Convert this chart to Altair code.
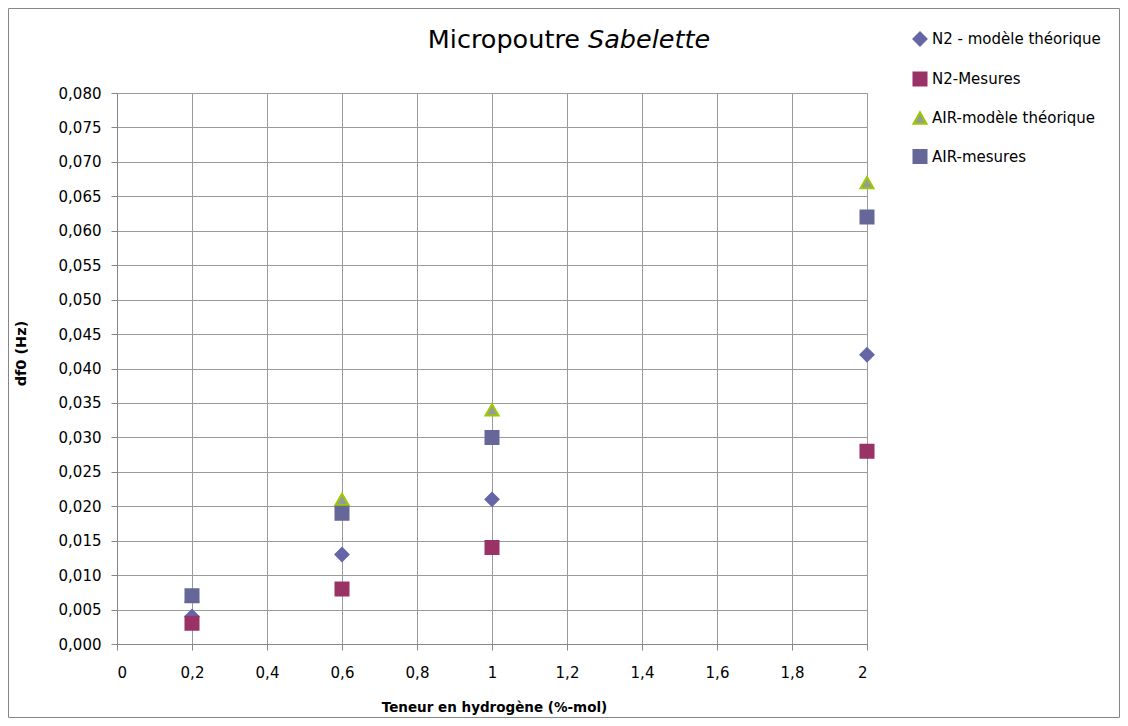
import altair as alt
import pandas as pd

# ---- data ----
x_values = [0.2, 0.6, 1.0, 2.0]
n2_theory = [0.004, 0.013, 0.021, 0.042]
n2_measured = [0.003, 0.008, 0.014, 0.028]
air_theory = [0.007, 0.021, 0.034, 0.067]
air_measured = [0.007, 0.019, 0.030, 0.062]

series_names = ["N2 - modèle théorique", "N2-Mesures", "AIR-modèle théorique", "AIR-mesures"]
series_fill = ["#6666A6", "#993366", "#999999", "#666699"]
series_stroke = ["#6666A6", "#993366", "#99CC00", "#666699"]
series_shape = ["diamond", "square", "triangle-up", "square"]
series_size = [170, 169, 200, 300]

x_ticks = [0, 0.2, 0.4, 0.6, 0.8, 1.0, 1.2, 1.4, 1.6, 1.8, 2.0]
y_ticks = [0.000, 0.005, 0.010, 0.015, 0.020, 0.025, 0.030, 0.035, 0.040,
           0.045, 0.050, 0.055, 0.060, 0.065, 0.070, 0.075, 0.080]

title_main = "Micropoutre"
title_italic = "Sabelette"
x_title = "Teneur en hydrogène (%-mol)"
y_title = "df0 (Hz)"

rows = []
for i, (name, vals) in enumerate(zip(series_names, [n2_theory, n2_measured, air_theory, air_measured])):
    for x, v in zip(x_values, vals):
        rows.append({"series": name, "x": x, "y": v, "k": i})
df = pd.DataFrame(rows)

FONT = "DejaVu Sans"
AXIS_GREY = "#868686"
GRID_GREY = "#9a9a9a"

W, H = 750, 551
PAD_L, PAD_T, PAD_R, PAD_B = 109, 85, 253, 74

legend = alt.Legend(
    title=None, orient="none", legendX=795, legendY=-62,
    labelFont=FONT, labelFontSize=15, labelColor="black", labelLimit=400,
    labelOffset=4, rowPadding=18, padding=0, symbolStrokeWidth=2,
)

points = alt.Chart(df).mark_point(filled=True, strokeWidth=2, opacity=1).encode(
    x=alt.X("x:Q",
            scale=alt.Scale(domain=[0, 2], nice=False, zero=True),
            axis=alt.Axis(values=x_ticks, title=x_title,
                          labelExpr="replace(format(datum.value, '.1~f'), '.', ',')",
                          labelBaseline="middle", labelPadding=22,
                          titleFont=FONT, titleFontWeight="bold", titleFontSize=13.5,
                          titleColor="black", titleBaseline="alphabetic",
                          titleX=377, titleY=67)),
    y=alt.Y("y:Q",
            scale=alt.Scale(domain=[0, 0.08], nice=False, zero=True),
            axis=alt.Axis(values=y_ticks, title=y_title,
                          labelExpr="replace(format(datum.value, '.3f'), '.', ',')",
                          labelPadding=10,
                          titleFont=FONT, titleFontWeight="bold", titleFontSize=14.5,
                          titleColor="black", titleAngle=270, titleBaseline="middle",
                          titleAlign="center", titleX=-96, titleY=260)),
    color=alt.Color("series:N", scale=alt.Scale(domain=series_names, range=series_fill), legend=legend),
    stroke=alt.Stroke("series:N", scale=alt.Scale(domain=series_names, range=series_stroke), legend=legend),
    shape=alt.Shape("series:N", scale=alt.Scale(domain=series_names, range=series_shape), legend=legend),
    size=alt.Size("series:N", scale=alt.Scale(domain=series_names, range=series_size), legend=legend),
    order=alt.Order("k:Q"),
)

one = pd.DataFrame({"a": [0]})

title1 = alt.Chart(one).mark_text(
    text=title_main, font=FONT, fontSize=25.5, align="right", baseline="alphabetic", color="black"
).encode(x=alt.value(463), y=alt.value(-45))

title2 = alt.Chart(one).mark_text(
    text=title_italic, font=FONT, fontSize=25.5, fontStyle="italic", align="left",
    baseline="alphabetic", color="black"
).encode(x=alt.value(471), y=alt.value(-45))

frame = alt.Chart(one).mark_rect(fill="transparent", stroke=AXIS_GREY, strokeWidth=1).encode(
    x=alt.value(-PAD_L + 0.5), x2=alt.value(W + PAD_R - 0.5),
    y=alt.value(-PAD_T + 0.5), y2=alt.value(H + PAD_B - 0.5),
)

chart = alt.layer(frame, points, title1, title2).properties(
    width=W, height=H,
    autosize=alt.AutoSizeParams(type="none"),
    padding={"left": PAD_L, "top": PAD_T, "right": PAD_R, "bottom": PAD_B},
    background="white",
).configure_view(
    stroke="transparent"
).configure_axis(
    domainColor=AXIS_GREY, tickColor=AXIS_GREY, gridColor=GRID_GREY, gridOpacity=1,
    tickSize=6, labelFont=FONT, labelFontSize=15, labelColor="black",
)

chart.save("out.html", embed_options={"renderer": "svg", "actions": False})
